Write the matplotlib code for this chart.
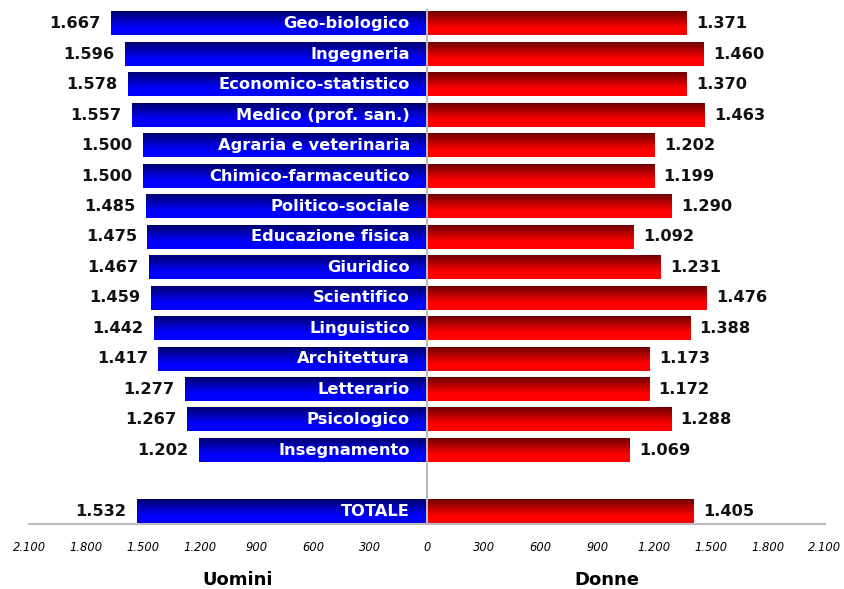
import matplotlib
matplotlib.use("Agg")
import matplotlib.pyplot as plt
from matplotlib.colors import LinearSegmentedColormap
import numpy as np

# dati
categorie = ["Geo-biologico", "Ingegneria", "Economico-statistico", "Medico (prof. san.)",
             "Agraria e veterinaria", "Chimico-farmaceutico", "Politico-sociale",
             "Educazione fisica", "Giuridico", "Scientifico", "Linguistico",
             "Architettura", "Letterario", "Psicologico", "Insegnamento", "TOTALE"]
uomini = [1667, 1596, 1578, 1557, 1500, 1500, 1485, 1475, 1467, 1459, 1442, 1417,
          1277, 1267, 1202, 1532]
donne = [1371, 1460, 1370, 1463, 1202, 1199, 1290, 1092, 1231, 1476, 1388, 1173,
         1172, 1288, 1069, 1405]
tick_val = [-2100, -1800, -1500, -1200, -900, -600, -300, 0, 300, 600, 900, 1200, 1500, 1800, 2100]


def fmt(v):
    return f"{abs(v):,}".replace(",", ".")


# posizioni: riga vuota prima del totale
pos = list(range(len(categorie) - 1)) + [len(categorie)]
h = 0.77

blu = LinearSegmentedColormap.from_list("blu", [(0, "#000070"), (0.7, "#0000ff"), (1, "#0000ff")])
rosso = LinearSegmentedColormap.from_list("rosso", [(0, "#700000"), (0.7, "#ff0000"), (1, "#ff0000")])
grad = np.linspace(0, 1, 64).reshape(-1, 1)

fig = plt.figure(figsize=(8.44, 5.89), dpi=100)
ax = fig.add_axes([0.0344, 0.110, 0.943, 0.875])

for y, u, d, cat in zip(pos, uomini, donne, categorie):
    # barre con sfumatura verticale
    ax.imshow(grad, extent=(-u, 0, y + h / 2, y - h / 2), aspect="auto", cmap=blu,
              origin="upper", interpolation="bilinear", zorder=2)
    ax.imshow(grad, extent=(0, d, y + h / 2, y - h / 2), aspect="auto", cmap=rosso,
              origin="upper", interpolation="bilinear", zorder=2)
    ax.text(-u - 55, y, fmt(u), ha="right", va="center", fontsize=11.7, fontweight="bold", color="#111111")
    ax.text(d + 50, y, fmt(d), ha="left", va="center", fontsize=11.7, fontweight="bold", color="#111111")
    ax.text(-90, y, cat, ha="right", va="center", fontsize=11.7, fontweight="bold", color="white", zorder=3)

ax.axvline(0, color="#bbbbbb", lw=1.5, zorder=4)
ax.set_xlim(-2100, 2100)
ax.set_ylim(16.43, -0.49)

ax.set_xticks(tick_val)
ax.set_xticklabels([fmt(v) for v in tick_val], fontsize=8.3, fontstyle="italic")
ax.tick_params(axis="x", length=0, pad=12)
ax.set_yticks([])
for s in ["top", "left", "right"]:
    ax.spines[s].set_visible(False)
ax.spines["bottom"].set_color("#bbbbbb")
ax.spines["bottom"].set_linewidth(1.5)

fig.text(0.282, 0.0153, "Uomini", ha="center", va="center", fontsize=13, fontweight="bold")
fig.text(0.719, 0.0153, "Donne", ha="center", va="center", fontsize=13, fontweight="bold")

fig.savefig("out.png", dpi=100)
